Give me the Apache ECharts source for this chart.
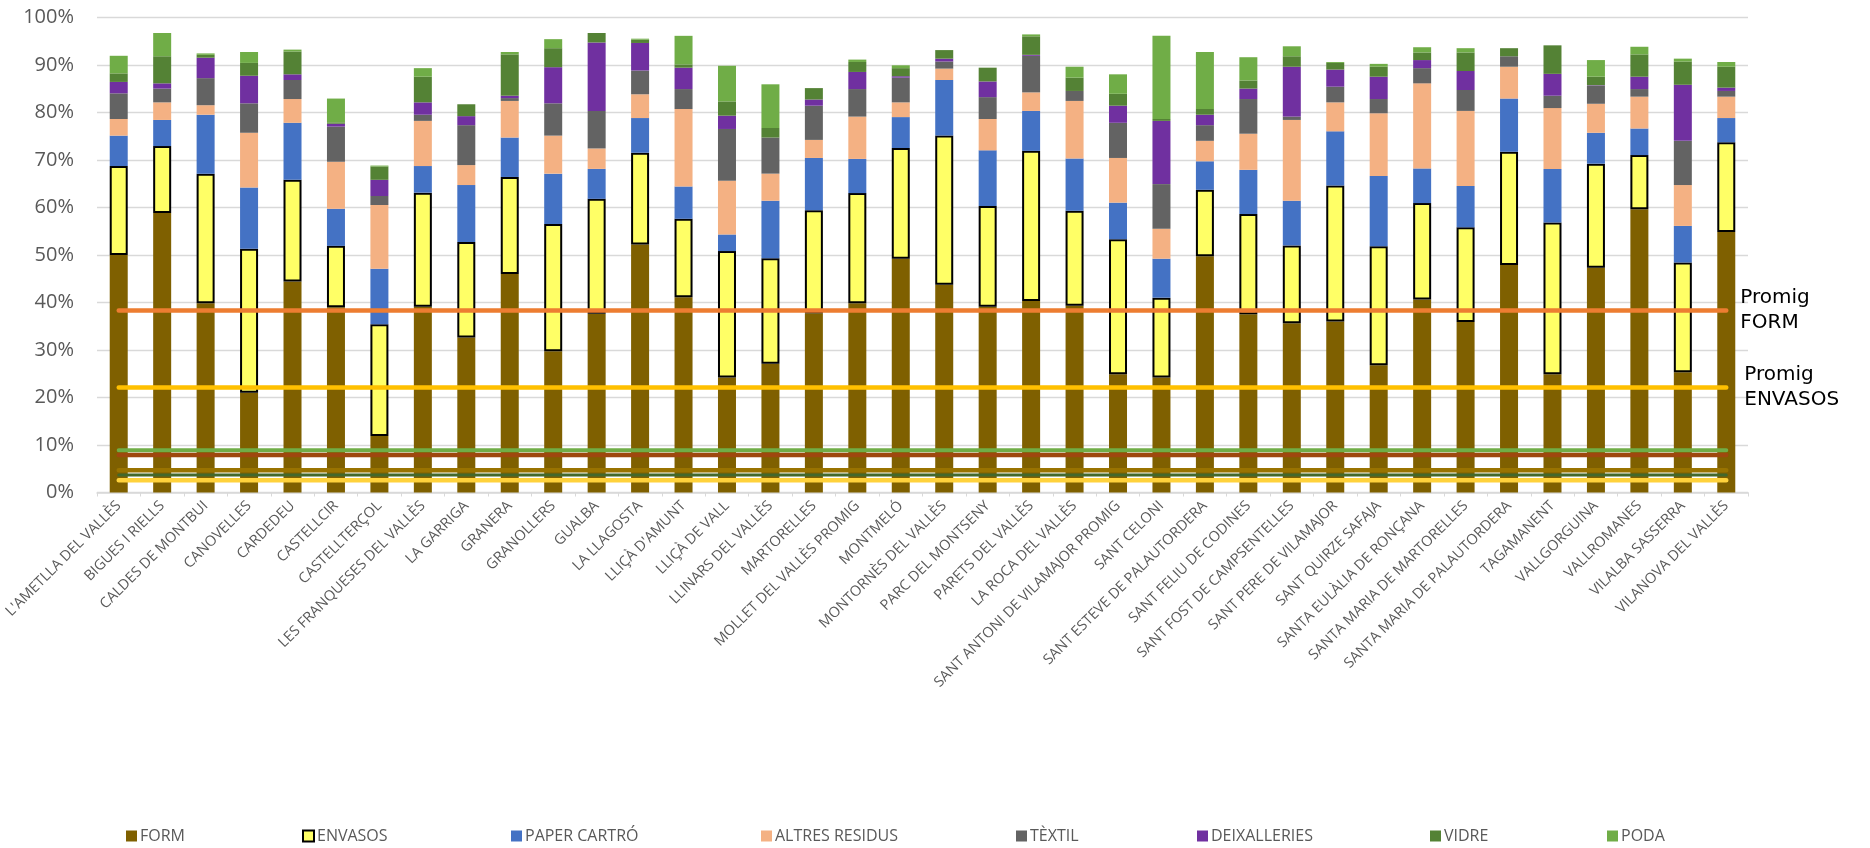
<!DOCTYPE html>
<html>
<head>
<meta charset="utf-8">
<script src="https://cdn.jsdelivr.net/npm/echarts@6/dist/echarts.min.js"></script>
<style>
html,body{margin:0;padding:0;background:#fff;}
#chart{width:1870px;height:848px;}
</style>
</head>
<body>
<div id="chart"></div>
<script>
const categories = ["L'AMETLLA DEL VALLÈS","BIGUES I RIELLS","CALDES DE MONTBUI","CANOVELLES","CARDEDEU","CASTELLCIR","CASTELLTERÇOL","LES FRANQUESES DEL VALLÈS","LA GARRIGA","GRANERA","GRANOLLERS","GUALBA","LA LLAGOSTA","LLIÇÀ D'AMUNT","LLIÇÀ DE VALL","LLINARS DEL VALLÈS","MARTORELLES","MOLLET DEL VALLÈS PROMIG","MONTMELÓ","MONTORNÈS DEL VALLÈS","PARC DEL MONTSENY","PARETS DEL VALLÈS","LA ROCA DEL VALLÈS","SANT ANTONI DE VILAMAJOR PROMIG","SANT CELONI","SANT ESTEVE DE PALAUTORDERA","SANT FELIU DE CODINES","SANT FOST DE CAMPSENTELLES","SANT PERE DE VILAMAJOR","SANT QUIRZE SAFAJA","SANTA EULÀLIA DE RONÇANA","SANTA MARIA DE MARTORELLES","SANTA MARIA DE PALAUTORDERA","TAGAMANENT","VALLGORGUINA","VALLROMANES","VILALBA SASSERRA","VILANOVA DEL VALLÈS"];

const FORM    = [50.0,58.8,39.8,21.0,44.4,39.0,11.9,39.1,32.6,46.0,29.7,37.6,52.2,41.1,24.2,27.1,37.7,39.8,49.2,43.7,39.1,40.3,39.3,24.9,24.2,49.7,37.5,35.6,36.0,26.8,40.6,35.9,47.9,24.9,47.3,59.6,25.3,54.8];
const ENVASOS = [18.7,14.1,27.3,30.3,21.4,12.9,23.5,24.0,20.1,20.4,26.8,24.2,19.3,16.5,26.6,22.2,21.7,23.2,23.3,31.4,21.2,31.6,20.0,28.4,16.8,14.0,21.1,16.4,28.6,25.0,20.3,19.9,23.8,31.9,21.9,11.4,23.1,18.9];
const PAPER   = [6.4,5.5,12.4,12.9,12.0,7.8,11.7,5.6,12.0,8.3,10.6,6.3,7.3,6.8,3.5,12.1,11.0,7.2,6.5,11.7,11.7,8.4,11.0,7.7,8.2,6.0,9.3,9.4,11.4,14.8,7.3,8.7,11.2,11.3,6.5,5.6,7.7,5.1];
const ALTRES  = [3.5,3.7,2.0,11.5,5.0,9.9,13.4,9.5,4.2,7.7,8.0,4.3,5.0,16.3,11.3,5.7,3.8,8.9,3.1,2.4,6.6,3.9,12.1,9.4,6.3,4.3,7.6,17.0,6.1,13.2,17.9,15.8,6.7,12.8,6.1,6.7,8.6,4.5];
const TEXTIL  = [5.4,2.9,5.7,6.2,4.0,7.4,1.9,1.3,8.4,0.6,6.8,7.9,5.0,4.2,10.9,7.6,7.2,5.8,5.2,1.5,4.6,7.7,2.1,7.4,9.4,3.3,7.3,0.7,3.3,3.0,3.2,4.4,2.2,2.6,3.8,1.6,9.3,1.2];
const DEIX    = [2.4,1.1,4.3,5.8,1.2,0.6,3.4,2.6,1.9,0.5,7.6,14.4,5.8,4.5,2.8,0,1.3,3.6,0.3,0.6,3.3,0.2,0,3.6,13.3,2.2,2.2,10.5,3.6,4.7,1.7,4.0,0,4.6,0.1,2.6,11.8,0.7];
const VIDRE   = [1.8,5.7,0.6,2.7,4.8,0.3,2.8,5.4,2.5,8.7,4.0,2.0,0.7,0.7,3.0,2.0,2.4,2.1,1.7,1.8,2.9,3.9,2.8,2.5,0.4,1.2,1.7,2.2,1.4,2.1,1.6,3.9,1.7,6.0,1.8,4.7,4.9,4.4];
const PODA    = [3.7,4.9,0.3,2.3,0.4,5.0,0.2,1.8,0,0.5,1.9,0,0.2,6.0,7.5,9.2,0,0.5,0.6,0,0,0.4,2.3,4.1,17.5,12.0,4.9,2.1,0.2,0.6,1.1,0.9,0,0,3.5,1.6,0.6,1.0];

const yTicks = [0,10,20,30,40,50,60,70,80,90,100];

// average (Promig) lines
const promigValues = [38.3, 22.1, 8.9, 7.9, 4.7, 3.7, 2.6];
const promigLabels = ['Promig\nFORM', 'Promig\nENVASOS', '', '', '', '', ''];

const barSeriesDef = [
  {name:'FORM', data:FORM, color:'#7F6000'},
  {name:'ENVASOS', data:ENVASOS, color:'#FFFF66', border:true},
  {name:'PAPER CARTRÓ', data:PAPER, color:'#4472C4'},
  {name:'ALTRES RESIDUS', data:ALTRES, color:'#F4B183'},
  {name:'TÈXTIL', data:TEXTIL, color:'#636363'},
  {name:'DEIXALLERIES', data:DEIX, color:'#7030A0'},
  {name:'VIDRE', data:VIDRE, color:'#548235'},
  {name:'PODA', data:PODA, color:'#70AD47'}
];
const lineStyles = [
  {color:'#ED7D31', width:4.5},
  {color:'#FFC000', width:4.5},
  {color:'#70AD47', width:4},
  {color:'#9E480E', width:4.5},
  {color:'#997300', width:4.5},
  {color:'#43682B', width:3},
  {color:'#FFD23C', width:4.5}
];
const legendLefts = [121, 297, 506, 756, 1011, 1192, 1425, 1602];

const series = [];
barSeriesDef.forEach(function(s){
  series.push({
    type:'bar', name:s.name, stack:'total', data:s.data, barWidth:18,
    itemStyle: s.border ? {color:s.color, borderColor:'#000', borderWidth:2} : {color:s.color},
    emphasis:{disabled:true}
  });
});
promigValues.forEach(function(v, i){
  const lbl = promigLabels[i];
  series.push({
    type:'line', name:'promig'+i,
    data: categories.map(function(){ return v; }),
    showSymbol:false, symbol:'none', silent:true,
    lineStyle:{color:lineStyles[i].color, width:lineStyles[i].width, cap:'round'},
    endLabel: lbl ? {show:true, formatter:lbl, distance: i===0 ? 14 : 18, color:'#000',
      fontFamily:'DejaVu Sans', fontSize:20, lineHeight:25, align:'left'} : {show:false},
    z:3
  });
});

const legends = barSeriesDef.map(function(s, i){
  return {
    data:[s.name], left:legendLefts[i], top:823, orient:'horizontal',
    icon:'rect', itemWidth:11, itemHeight:11,
    textStyle:{fontFamily:'Open Sans', fontSize:16, color:'#595959', padding:[0,0,0,-2], lineHeight:16},
    selectedMode:false
  };
});

const chart = echarts.init(document.getElementById('chart'), null, {renderer:'canvas'});
chart.setOption({
  animation:false,
  backgroundColor:'#ffffff',
  grid:{left:97, right:122, top:17.3, bottom:355.5, containLabel:false},
  legend: legends,
  xAxis:{
    type:'category', data:categories,
    axisLine:{lineStyle:{color:'#D9D9D9', width:1.5}},
    axisTick:{show:true, length:4, lineStyle:{color:'#D9D9D9'}},
    axisLabel:{interval:0, rotate:45, fontFamily:'Open Sans', fontSize:14.5, color:'#595959', margin:11}
  },
  yAxis:{
    type:'value', min:yTicks[0], max:yTicks[yTicks.length-1], interval:10,
    axisLine:{show:false}, axisTick:{show:false},
    splitLine:{lineStyle:{color:'#D9D9D9', width:1.3}},
    axisLabel:{formatter:'{value}%', fontFamily:'Open Sans', fontSize:20, color:'#595959', margin:23}
  },
  series: series
});
</script>
</body>
</html>
